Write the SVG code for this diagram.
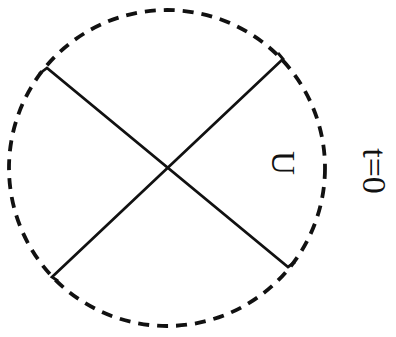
<svg xmlns="http://www.w3.org/2000/svg" width="396" height="337" viewBox="0 0 396 337">
<style>
.ln{fill:none;stroke:#111;stroke-width:2.8;stroke-linejoin:miter}
.lbl{font-family:"Liberation Serif",serif;fill:#111}
</style>
<rect width="396" height="337" fill="#fff"/>
<g id="circle">
<circle cx="167" cy="168" r="158" fill="none" stroke="#111" stroke-width="3.8" stroke-dasharray="11 8"/>
</g>
<g id="connectors">
<polyline class="ln" points="39,74 47,68 288,267 295,262"/>
<polyline class="ln" points="278,53 283,59 52,277 58,281"/>
</g>
<g id="label-U">
<text class="lbl" font-size="33" text-anchor="middle" transform="translate(272,163) rotate(90)">U</text>
</g>
<g id="label-t0">
<text class="lbl" font-size="34" text-anchor="middle" transform="translate(363,171) rotate(90)">t=0</text>
</g>
</svg>
